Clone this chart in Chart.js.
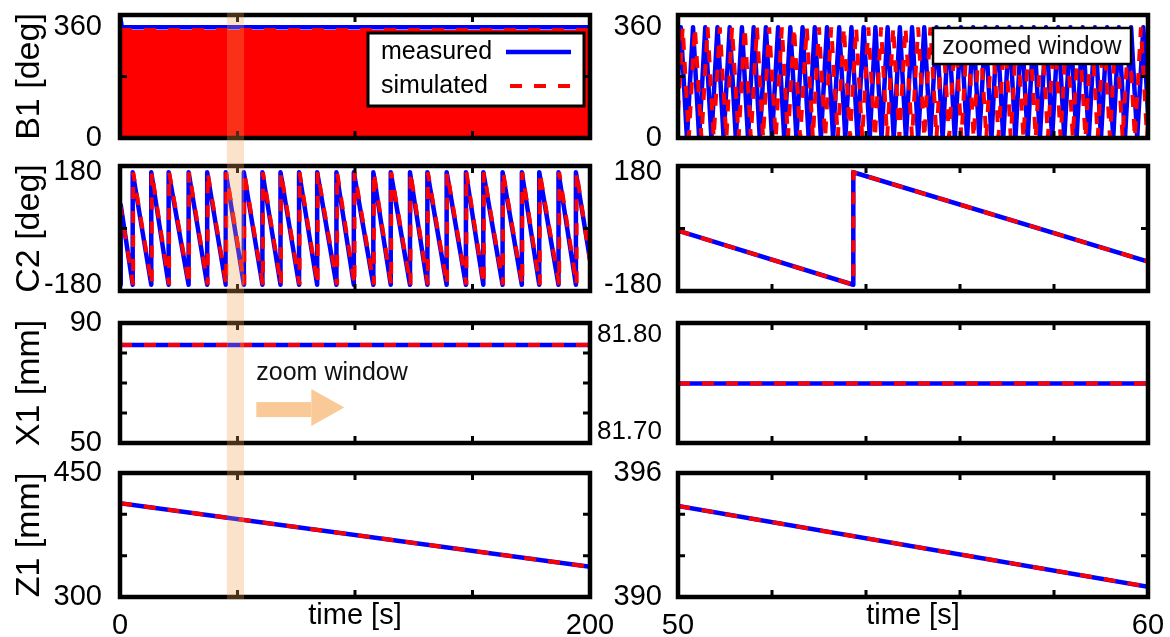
<!DOCTYPE html>
<html>
<head>
<meta charset="utf-8">
<script src="https://cdn.jsdelivr.net/npm/chart.js@4.4.1/dist/chart.umd.min.js"></script>
<style>
  html, body { margin: 0; padding: 0; background: #fff; }
  #wrap { position: relative; width: 1170px; height: 637px; overflow: hidden; }
  canvas { position: absolute; }
</style>
</head>
<body>
<div id="wrap">
  <canvas id="b1All"></canvas>
  <canvas id="c2All"></canvas>
  <canvas id="x1All"></canvas>
  <canvas id="z1All"></canvas>
  <canvas id="b1Zoom"></canvas>
  <canvas id="c2Zoom"></canvas>
  <canvas id="x1Zoom"></canvas>
  <canvas id="z1Zoom"></canvas>
</div>
<script>
// time axes
const fullRange = [0, 200]
const zoomRange = [50, 60]
const fullXTicks = [0, 200]
const fullXLabels = ['0', '200']
const zoomXTicks = [50, 60]
const zoomXLabels = ['50', '60']
const fullXMarks = [50, 100, 150]
const zoomXMarks = [52, 54, 56, 58]
const zoomBand = [45.5, 52.8]   // shaded strip across the left column

// B1 [deg]
const b1Range = [0, 400]
const b1YTicks = [0, 360]
const b1YLabels = ['0', '360']
const b1YMarks = [200]
const b1Top = 360
const b1Bottom = 0
// 0-200 s: far too many turns to resolve, only the envelope can be read
const b1AllMeasTime = [0, 0.8, 200]
const b1AllMeasured = [398, 360, 360]
const b1AllSimTime = [0, 200]
const b1AllSimulated = [351, 351]
// 50-60 s
const b1ZoomMeasPeaks = [50.06, 50.32, 50.58, 50.84, 51.10, 51.36, 51.61, 51.87, 52.13, 52.39,
  52.65, 52.91, 53.17, 53.43, 53.69, 53.95, 54.20, 54.46, 54.72, 54.98, 55.24, 55.50, 55.76,
  56.02, 56.28, 56.54, 56.79, 57.05, 57.31, 57.57, 57.83, 58.09, 58.35, 58.61, 58.87, 59.13,
  59.38, 59.64, 59.90]
const b1ZoomMeasTroughs = [50.19, 50.45, 50.71, 50.97, 51.23, 51.49, 51.74, 52.00, 52.26, 52.52,
  52.78, 53.04, 53.30, 53.56, 53.82, 54.08, 54.33, 54.59, 54.85, 55.11, 55.37, 55.63, 55.89,
  56.15, 56.41, 56.67, 56.92, 57.18, 57.44, 57.70, 57.96, 58.22, 58.48, 58.74, 59.00, 59.26,
  59.51, 59.77]
const b1ZoomMeasEdges = [194, 83]
const b1ZoomSimPeaks = [50.10, 50.36, 50.63, 50.89, 51.15, 51.42, 51.68, 51.94, 52.21, 52.47,
  52.74, 53.00, 53.26, 53.53, 53.79, 54.05, 54.32, 54.58, 54.84, 55.11, 55.37, 55.63, 55.90,
  56.16, 56.42, 56.69, 56.95, 57.21, 57.48, 57.74, 58.01, 58.27, 58.53, 58.80, 59.06, 59.32,
  59.59, 59.85]
const b1ZoomSimTroughs = [50.23, 50.50, 50.76, 51.03, 51.29, 51.55, 51.81, 52.08, 52.34, 52.60,
  52.87, 53.13, 53.40, 53.66, 53.92, 54.19, 54.45, 54.71, 54.98, 55.24, 55.50, 55.77, 56.03,
  56.29, 56.56, 56.82, 57.08, 57.35, 57.61, 57.87, 58.14, 58.40, 58.67, 58.93, 59.19, 59.46,
  59.72, 59.98]
const b1ZoomSimEdges = [83, 55]

// C2 [deg]
const c2Range = [-200, 200]
const c2YTicks = [-180, 180]
const c2YLabels = ['-180', '180']
const c2YMarks = [0]
const c2Top = 180
const c2Bottom = -180
// wrap instants (jump from -180 to 180)
const c2AllMeasWraps = [5.4, 13.3, 20.7, 29.2, 37.1, 45.0, 52.7, 60.6, 68.3, 76.2, 83.9, 92.1,
  99.5, 107.8, 115.2, 123.4, 130.8, 139.0, 147.2, 154.6, 162.8, 171.0, 178.4, 186.6, 194.0]
const c2AllSimWraps = [5.6, 13.5, 20.9, 29.4, 37.3, 45.2, 52.9, 60.8, 68.5, 76.4, 84.1, 92.4,
  99.8, 108.0, 115.4, 123.6, 131.0, 139.2, 147.4, 154.8, 163.0, 171.2, 178.6, 186.9, 194.3]
const c2AllMeasStartTime = [0, 0.3]
const c2AllMeasStart = [-180, 76]
const c2AllSimStartTime = [0]
const c2AllSimStart = [80]
const c2AllEnd = [-100, -105]   // measured, simulated at 200 s
const c2ZoomTime = [50, 53.73, 53.73, 60]
const c2ZoomMeasured = [-7, -180, 180, -106]
const c2ZoomSimulated = [-7, -180, 180, -106]

// X1 [mm]
const x1AllRange = [50, 90]
const x1AllYTicks = [50, 90]
const x1AllYLabels = ['50', '90']
const x1AllYMarks = [60, 70, 80]
const x1AllTime = [0, 200]
const x1AllMeasured = [82.7, 82.7]
const x1AllSimulated = [82.7, 82.7]
const x1ZoomRange = [81.689, 81.812]
const x1ZoomYTicks = [81.70, 81.80]
const x1ZoomYLabels = ['81.70', '81.80']
const x1ZoomTime = [50, 60]
const x1ZoomMeasured = [81.75, 81.75]
const x1ZoomSimulated = [81.75, 81.75]

// Z1 [mm]
const z1AllRange = [300, 450]
const z1AllYTicks = [300, 450]
const z1AllYLabels = ['300', '450']
const z1AllYMarks = [350, 400]
const z1AllTime = [0, 200]
const z1AllMeasured = [413.5, 336.5]
const z1AllSimulated = [413.5, 336.5]
const z1ZoomRange = [390, 396]
const z1ZoomYTicks = [390, 396]
const z1ZoomYLabels = ['390', '396']
const z1ZoomYMarks = [392, 394]
const z1ZoomTime = [50, 60]
const z1ZoomMeasured = [394.4, 390.5]
const z1ZoomSimulated = [394.4, 390.5]

const FONT = '"Liberation Sans", Arial, Helvetica, sans-serif'
const BLUE = '#0000ff'
const RED = '#ff0000'
const TICK_SIZE = 29
const TITLE_SIZE = 34
Chart.defaults.font.family = FONT
Chart.defaults.color = '#000'

function pts(xs, ys) {
    return xs.map((x, i) => ({ x: x, y: ys[i] }))
}

function zigzag(peaks, troughs, edges) {
    return [{ x: zoomRange[0], y: edges[0] }]
        .concat(peaks.map(x => ({ x: x, y: b1Top })))
        .concat(troughs.map(x => ({ x: x, y: b1Bottom })))
        .concat([{ x: zoomRange[1], y: edges[1] }])
        .sort((a, b) => a.x - b.x)
}

function sawtooth(start, wraps, end) {
    const out = start.slice()
    wraps.forEach(t => {
        out.push({ x: t, y: c2Bottom }, { x: t, y: c2Top })
    })
    out.push(end)
    return out
}

function measured(data) {
    return {
        label: 'measured', data: data, borderColor: BLUE, borderWidth: 4.5,
        pointRadius: 0, tension: 0, fill: false, borderJoinStyle: 'round'
    }
}

function simulated(data) {
    return {
        label: 'simulated', data: data, borderColor: RED, borderWidth: 4,
        borderDash: [12, 12], pointRadius: 0, tension: 0, fill: false
    }
}

// black box + inward tick marks
function frame(xMarks, yMarks) {
    return {
        id: 'frame',
        afterDatasetsDraw(chart) {
            const { ctx, chartArea: a, scales } = chart
            ctx.save()
            ctx.strokeStyle = '#000'
            ctx.lineWidth = 3
            ctx.beginPath()
            xMarks.forEach(v => {
                const px = scales.x.getPixelForValue(v)
                ctx.moveTo(px, a.top); ctx.lineTo(px, a.top + 7)
                ctx.moveTo(px, a.bottom); ctx.lineTo(px, a.bottom - 7)
            })
            yMarks.forEach(v => {
                const py = scales.y.getPixelForValue(v)
                ctx.moveTo(a.left, py); ctx.lineTo(a.left + 7, py)
                ctx.moveTo(a.right, py); ctx.lineTo(a.right - 7, py)
            })
            ctx.stroke()
            ctx.lineWidth = 4.5
            ctx.strokeRect(a.left, a.top, a.right - a.left, a.bottom - a.top)
            ctx.restore()
        }
    }
}

function band(rowIndex) {
    return {
        id: 'band',
        afterDatasetsDraw(chart) {
            const { ctx, chartArea: a, scales } = chart
            const x0 = scales.x.getPixelForValue(zoomBand[0])
            const x1 = scales.x.getPixelForValue(zoomBand[1])
            const top = rowIndex === 0 ? a.top - 2 : 0
            const bottom = rowIndex === 3 ? a.bottom + 2 : chart.height
            ctx.save()
            ctx.fillStyle = 'rgba(242, 160, 80, 0.3)'
            ctx.fillRect(x0, top, x1 - x0, bottom - top)
            ctx.restore()
        }
    }
}

const legendBox = {
    id: 'legendBox',
    afterDatasetsDraw(chart) {
        const { ctx, chartArea: a } = chart
        const x0 = a.right - 222, y0 = a.top + 18, w = 216, h = 73
        ctx.save()
        ctx.fillStyle = '#fff'
        ctx.fillRect(x0, y0, w, h)
        ctx.lineWidth = 3
        ctx.strokeStyle = '#000'
        ctx.strokeRect(x0, y0, w, h)
        ctx.font = '25px ' + FONT
        ctx.textBaseline = 'middle'
        const items = chart.data.datasets.slice().reverse()
        items.forEach((ds, i) => {
            const y = y0 + 19 + i * 34
            ctx.fillStyle = '#000'
            ctx.fillText(ds.label, x0 + 13, y)
            ctx.strokeStyle = ds.borderColor
            ctx.lineWidth = ds.borderWidth
            ctx.setLineDash(ds.borderDash || [])
            ctx.beginPath()
            ctx.moveTo(x0 + (ds.borderDash ? 142 : 138), y)
            ctx.lineTo(x0 + 203, y)
            ctx.stroke()
            ctx.setLineDash([])
        })
        ctx.restore()
    }
}

const zoomedLabel = {
    id: 'zoomedLabel',
    afterDatasetsDraw(chart) {
        const { ctx, chartArea: a } = chart
        const x0 = a.right - 215, y0 = a.top + 13, w = 198, h = 36
        ctx.save()
        ctx.fillStyle = '#fff'
        ctx.fillRect(x0, y0, w, h)
        ctx.lineWidth = 2.5
        ctx.strokeStyle = '#000'
        ctx.strokeRect(x0, y0, w, h)
        ctx.fillStyle = '#111'
        ctx.font = '25px ' + FONT
        ctx.textAlign = 'center'
        ctx.textBaseline = 'middle'
        ctx.fillText('zoomed window', x0 + w / 2, y0 + h / 2 + 1)
        ctx.restore()
    }
}

const zoomArrow = {
    id: 'zoomArrow',
    afterDatasetsDraw(chart) {
        const { ctx, scales } = chart
        const tx = scales.x.getPixelForValue(58)
        const ty = scales.y.getPixelForValue(73.3)
        ctx.save()
        ctx.fillStyle = '#111'
        ctx.font = '25px ' + FONT
        ctx.textBaseline = 'middle'
        ctx.fillText('zoom window', tx, ty)
        ctx.fillStyle = 'rgb(249, 202, 151)'
        ctx.fillRect(tx, ty + 29, 55, 15)
        ctx.beginPath()
        ctx.moveTo(tx + 55, ty + 16)
        ctx.lineTo(tx + 88, ty + 34.5)
        ctx.lineTo(tx + 55, ty + 53)
        ctx.closePath()
        ctx.fill()
        ctx.restore()
    }
}

const colLeft = { left: 0, width: 620, axisW: 120, padRight: 30, tickPad: 10 }
const colRight = { left: 570, width: 600, axisW: 108, padRight: 22, tickPad: 8 }
const rows = [
    { top: 0, h: 152, padTop: 15, xH: 14 },
    { top: 152, h: 154, padTop: 14, xH: 15 },
    { top: 306, h: 152, padTop: 17, xH: 15 },
    { top: 458, h: 179, padTop: 15, xH: 40 }
]

function panel(id, col, rowIndex, o) {
    const row = rows[rowIndex]
    const bottomRow = rowIndex === 3
    const c = document.getElementById(id)
    c.width = col.width
    c.height = row.h
    c.style.left = col.left + 'px'
    c.style.top = row.top + 'px'
    const extra = o.extra || []
    return new Chart(c, {
        type: 'line',
        data: { datasets: o.datasets },
        options: {
            responsive: false,
            animation: false,
            devicePixelRatio: 1,
            events: [],
            layout: { autoPadding: false, padding: { top: row.padTop, right: col.padRight, bottom: 0, left: 0 } },
            plugins: { legend: { display: false }, tooltip: { enabled: false } },
            scales: {
                x: {
                    type: 'linear',
                    min: o.xRange[0],
                    max: o.xRange[1],
                    grid: { display: false },
                    border: { display: false },
                    afterBuildTicks: s => { s.ticks = o.xTicks.map(v => ({ value: v })) },
                    ticks: {
                        display: bottomRow, font: { size: TICK_SIZE }, color: '#000', padding: 4,
                        maxRotation: 0, autoSkip: false, callback: (v, i) => o.xLabels[i]
                    },
                    title: {
                        display: bottomRow, text: 'time [s]', font: { size: TICK_SIZE }, color: '#000',
                        padding: { top: 0, bottom: 4 }
                    },
                    afterFit: s => {
                        s.height = row.xH
                        s.paddingLeft = 0
                        s.paddingRight = 0
                    }
                },
                y: {
                    min: o.yRange[0],
                    max: o.yRange[1],
                    grid: { display: false },
                    border: { display: false },
                    afterBuildTicks: s => { s.ticks = o.yTicks.map(v => ({ value: v })) },
                    ticks: {
                        font: { size: o.yTickSize || TICK_SIZE }, color: '#000', padding: col.tickPad,
                        autoSkip: false, callback: (v, i) => o.yLabels[i]
                    },
                    title: {
                        display: !!o.yTitle, text: o.yTitle || '', font: { size: TITLE_SIZE }, color: '#000',
                        padding: { top: 9, bottom: 0 }
                    },
                    afterFit: s => {
                        s.width = col.axisW
                        s.paddingTop = 0
                        s.paddingBottom = 0
                    }
                }
            }
        },
        plugins: [frame(o.xMarks, o.yMarks)].concat(col === colLeft ? [band(rowIndex)] : []).concat(extra)
    })
}

const leftX = { xRange: fullRange, xTicks: fullXTicks, xLabels: fullXLabels, xMarks: fullXMarks }
const rightX = { xRange: zoomRange, xTicks: zoomXTicks, xLabels: zoomXLabels, xMarks: zoomXMarks }

const b1SimFill = simulated(pts(b1AllSimTime, b1AllSimulated))
b1SimFill.fill = 'origin'
b1SimFill.backgroundColor = RED

panel('b1All', colLeft, 0, Object.assign({}, leftX, {
    yRange: b1Range, yTicks: b1YTicks, yLabels: b1YLabels, yMarks: b1YMarks, yTitle: 'B1 [deg]',
    datasets: [b1SimFill, measured(pts(b1AllMeasTime, b1AllMeasured))],
    extra: [legendBox]
}))

panel('c2All', colLeft, 1, Object.assign({}, leftX, {
    yRange: c2Range, yTicks: c2YTicks, yLabels: c2YLabels, yMarks: c2YMarks, yTitle: 'C2 [deg]',
    datasets: [
        simulated(sawtooth(pts(c2AllSimStartTime, c2AllSimStart), c2AllSimWraps, { x: fullRange[1], y: c2AllEnd[1] })),
        measured(sawtooth(pts(c2AllMeasStartTime, c2AllMeasStart), c2AllMeasWraps, { x: fullRange[1], y: c2AllEnd[0] }))
    ]
}))

panel('x1All', colLeft, 2, Object.assign({}, leftX, {
    yRange: x1AllRange, yTicks: x1AllYTicks, yLabels: x1AllYLabels, yMarks: x1AllYMarks, yTitle: 'X1 [mm]',
    datasets: [simulated(pts(x1AllTime, x1AllSimulated)), measured(pts(x1AllTime, x1AllMeasured))],
    extra: [zoomArrow]
}))

panel('z1All', colLeft, 3, Object.assign({}, leftX, {
    yRange: z1AllRange, yTicks: z1AllYTicks, yLabels: z1AllYLabels, yMarks: z1AllYMarks, yTitle: 'Z1 [mm]',
    datasets: [simulated(pts(z1AllTime, z1AllSimulated)), measured(pts(z1AllTime, z1AllMeasured))]
}))

panel('b1Zoom', colRight, 0, Object.assign({}, rightX, {
    yRange: b1Range, yTicks: b1YTicks, yLabels: b1YLabels, yMarks: b1YMarks,
    datasets: [
        simulated(zigzag(b1ZoomSimPeaks, b1ZoomSimTroughs, b1ZoomSimEdges)),
        measured(zigzag(b1ZoomMeasPeaks, b1ZoomMeasTroughs, b1ZoomMeasEdges))
    ],
    extra: [zoomedLabel]
}))

panel('c2Zoom', colRight, 1, Object.assign({}, rightX, {
    yRange: c2Range, yTicks: c2YTicks, yLabels: c2YLabels, yMarks: c2YMarks,
    datasets: [simulated(pts(c2ZoomTime, c2ZoomSimulated)), measured(pts(c2ZoomTime, c2ZoomMeasured))]
}))

panel('x1Zoom', colRight, 2, Object.assign({}, rightX, {
    yRange: x1ZoomRange, yTicks: x1ZoomYTicks, yLabels: x1ZoomYLabels, yMarks: [], yTickSize: 26,
    datasets: [simulated(pts(x1ZoomTime, x1ZoomSimulated)), measured(pts(x1ZoomTime, x1ZoomMeasured))]
}))

panel('z1Zoom', colRight, 3, Object.assign({}, rightX, {
    yRange: z1ZoomRange, yTicks: z1ZoomYTicks, yLabels: z1ZoomYLabels, yMarks: z1ZoomYMarks,
    datasets: [simulated(pts(z1ZoomTime, z1ZoomSimulated)), measured(pts(z1ZoomTime, z1ZoomMeasured))]
}))
</script>
</body>
</html>
